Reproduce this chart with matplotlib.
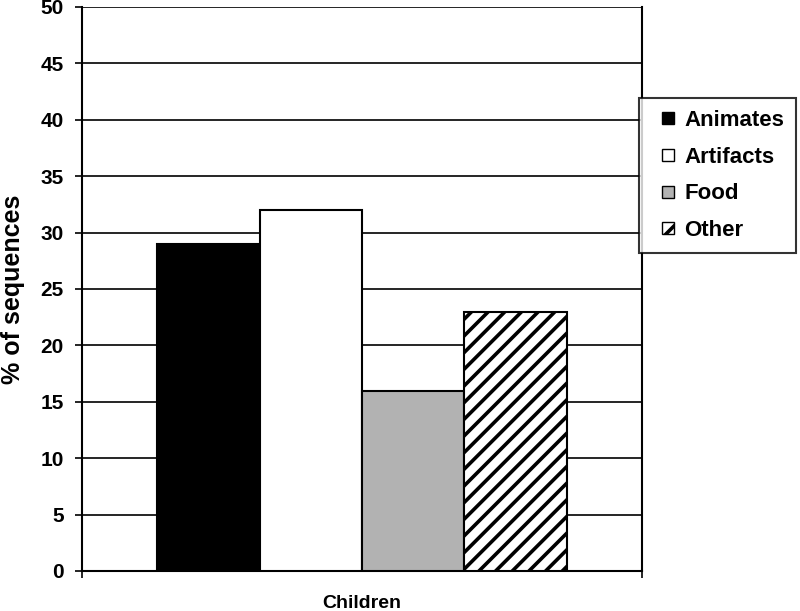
import matplotlib.pyplot as plt
from matplotlib.patches import Patch, Rectangle
from matplotlib.legend_handler import HandlerPatch

categories = ['Animates', 'Artifacts', 'Food', 'Other']
values = [29, 32, 16, 23]
group_label = 'Children'

plt.rcParams['font.family'] = ['Liberation Sans', 'DejaVu Sans']
plt.rcParams['font.weight'] = 'bold'
plt.rcParams['hatch.linewidth'] = 2.6

colours = ['black', 'white', '#b2b2b2', 'white']
hatches = [None, None, None, '//']

fig = plt.figure(figsize=(8, 6.11), dpi=100)
ax = fig.add_axes([82 / 800, 40 / 611, 560 / 800, 564 / 611])

w = 0.183
for i, (cat, val) in enumerate(zip(categories, values)):
    x = 0.5 + (i - 1.5) * w
    ax.bar(x, val, width=w, color=colours[i], edgecolor='black',
           linewidth=1.5, hatch=hatches[i], zorder=3)

ax.set_xlim(0, 1)
ax.set_ylim(0, 50)
ax.set_yticks(range(0, 51, 5))
ax.yaxis.grid(True, color='black', linewidth=1.2, zorder=0)
ax.set_axisbelow(True)

ax.set_xticks([0, 1])
ax.set_xticklabels(['', ''])
ax.set_xlabel(group_label, fontsize=14, fontweight='bold', labelpad=4)
ax.set_ylabel('% of sequences', fontsize=18, fontweight='bold', labelpad=11)

ax.tick_params(axis='both', direction='out', length=5, width=1.2,
               labelsize=15, pad=8)
for lab in ax.get_yticklabels():
    lab.set_fontweight('bold')

ax.spines['top'].set_visible(False)
for s in ['left', 'right', 'bottom']:
    ax.spines[s].set_linewidth(1.5)


# small square marker sitting at the right end of the handle box
def square(legend, orig_handle, xdescent, ydescent, width, height, fontsize):
    size = 8.6
    return Rectangle((-xdescent + width - size, -ydescent + (height - size) / 2),
                     size, size)


handles = [Patch(facecolor=colours[i], edgecolor='black', hatch=hatches[i],
                 linewidth=1.0, label=categories[i]) for i in range(4)]
leg = fig.legend(handles=handles, loc='upper left',
                 bbox_to_anchor=(639 / 800, 1 - 98 / 611), borderaxespad=0,
                 fontsize=16, frameon=True, fancybox=False,
                 handler_map={Patch: HandlerPatch(patch_func=square)},
                 handlelength=1.025, handleheight=0.7, handletextpad=0.45,
                 labelspacing=0.7, borderpad=0.55)
leg.get_frame().set_edgecolor('black')
leg.get_frame().set_linewidth(1.5)
for t in leg.get_texts():
    t.set_fontweight('bold')

fig.savefig('out.png', dpi=100)
